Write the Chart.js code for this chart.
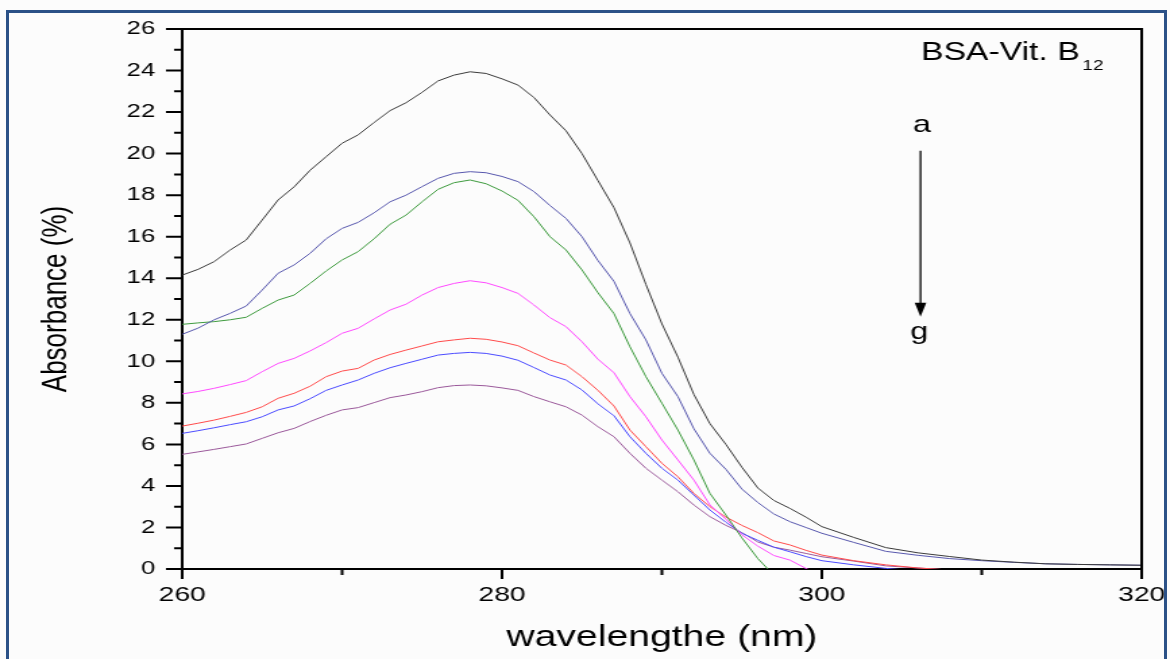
<!DOCTYPE html>
<html>
<head>
<meta charset="utf-8">
<script src="https://cdn.jsdelivr.net/npm/chart.js@4.4.1/dist/chart.umd.min.js"></script>
<style>
  html, body { margin: 0; padding: 0; background: #fcfcfc; overflow: hidden; }
  #frame { position: absolute; left: 6px; top: 10px; width: 1155px; height: 700px;
           border: 3px solid #2b5187; border-bottom: none; pointer-events: none; }
  /* the original picture is stretched sideways, so the chart is too */
  #c { position: absolute; left: 0; top: 0; transform: scaleX(1.34948); transform-origin: 0 0; }
</style>
</head>
<body>
<canvas id="c" width="867" height="659"></canvas>
<div id="frame"></div>
<script>
// wavelength (nm)
const wavelengths = [260,261,262,263,264,265,266,267,268,269,270,271,272,273,274,275,276,277,278,279,
  280,281,282,283,284,285,286,287,288,289,290,291,292,293,294,295,296,297,298,299,300,
  302,304,306,308,310,312,314,316,318,320];

// absorbance of curves a..g
const curveA = [14.15,14.43,14.8,15.36,15.84,16.8,17.77,18.4,19.2,19.85,20.5,20.9,21.5,22.07,22.45,22.95,23.5,23.78,23.94,23.86,
  23.6,23.3,22.7,21.86,21.1,20.0,18.7,17.4,15.7,13.7,11.8,10.2,8.4,7.0,6.0,4.9,3.9,3.3,2.92,2.5,2.04,
  1.52,1.03,0.78,0.6,0.43,0.33,0.25,0.22,0.2,0.18];
const curveB = [11.3,11.6,12.0,12.31,12.66,13.43,14.24,14.64,15.2,15.9,16.4,16.69,17.15,17.68,18.0,18.41,18.81,19.05,19.13,19.08,
  18.9,18.65,18.17,17.5,16.88,16.0,14.85,13.85,12.3,11.03,9.42,8.3,6.75,5.57,4.8,3.85,3.2,2.65,2.28,2.0,1.72,
  1.28,0.85,0.66,0.5,0.4,0.32,0.25,0.22,0.2,0.18];
const curveC = [11.78,11.85,11.91,12.0,12.12,12.55,12.95,13.19,13.75,14.35,14.88,15.28,15.9,16.6,17.04,17.68,18.28,18.6,18.73,18.55,
  18.2,17.75,16.96,16.0,15.36,14.4,13.3,12.3,10.7,9.26,7.98,6.69,5.25,3.64,2.6,1.5,0.5,-0.3,null,null,null,
  null,null,null,null,null,null,null,null,null,null];
const curveD = [8.43,8.55,8.7,8.88,9.07,9.5,9.9,10.14,10.5,10.9,11.35,11.59,12.04,12.47,12.75,13.19,13.55,13.75,13.88,13.78,
  13.55,13.27,12.71,12.1,11.67,10.94,10.1,9.45,8.3,7.33,6.21,5.25,4.28,3.08,2.4,1.65,1.1,0.65,0.43,0.03,-0.3,
  null,null,null,null,null,null,null,null,null,null];
const curveE = [6.88,7.02,7.17,7.35,7.54,7.81,8.22,8.46,8.8,9.26,9.53,9.66,10.06,10.33,10.54,10.74,10.94,11.03,11.11,11.06,
  10.93,10.75,10.4,10.06,9.82,9.26,8.6,7.85,6.69,5.89,5.09,4.44,3.64,3.0,2.5,2.1,1.75,1.35,1.16,0.9,0.67,
  0.4,0.2,0.05,-0.05,null,null,null,null,null,null];
const curveF = [6.53,6.66,6.8,6.95,7.09,7.33,7.66,7.85,8.2,8.6,8.86,9.1,9.42,9.69,9.9,10.1,10.3,10.38,10.43,10.38,
  10.25,10.05,9.7,9.34,9.1,8.62,7.95,7.38,6.37,5.57,4.85,4.28,3.56,2.84,2.25,1.72,1.38,1.05,0.83,0.6,0.4,
  0.2,0.03,-0.1,null,null,null,null,null,null,null];
const curveG = [5.52,5.64,5.76,5.89,6.02,6.29,6.56,6.77,7.1,7.4,7.66,7.77,8.01,8.25,8.38,8.54,8.73,8.83,8.86,8.82,
  8.72,8.6,8.3,8.05,7.81,7.41,6.85,6.37,5.57,4.85,4.28,3.72,3.08,2.52,2.1,1.75,1.3,1.05,0.91,0.75,0.59,
  0.38,0.15,0.05,-0.05,null,null,null,null,null,null];

const curveNames = ["a", "b", "c", "d", "e", "f", "g"];
const curveColors = ["#3a3a3a", "#5757ad", "#3d9a3d", "#ff48ff", "#ff4a4a", "#4a4aff", "#9a589a"];
const curves = [curveA, curveB, curveC, curveD, curveE, curveF, curveG];

const yTicks = { min: 0, max: 26, step: 2 };
const xTicks = { min: 260, max: 320, step: 20 };

const FONT = "'Liberation Sans', Arial, sans-serif";

function toPoints(values) {
  return values.map((v, i) => ({ x: wavelengths[i], y: v }));
}

// minor ticks, frame and the a -> g arrow note
const extras = {
  id: 'extras',
  afterDraw(chart) {
    const { ctx, chartArea: a, scales: { x, y } } = chart;
    ctx.save();
    ctx.strokeStyle = '#000';
    ctx.lineWidth = 2;
    ctx.beginPath();
    for (let v = yTicks.min; v <= yTicks.max; v++) {
      const py = y.getPixelForValue(v);
      ctx.moveTo(a.left - (v % 2 ? 6 : 12), py);
      ctx.lineTo(a.left, py);
    }
    for (let v = xTicks.min; v <= xTicks.max; v += 10) {
      const px = x.getPixelForValue(v);
      ctx.moveTo(px, a.bottom);
      ctx.lineTo(px, a.bottom + (v % 20 ? 6 : 10));
    }
    ctx.moveTo(a.left, a.top);
    ctx.lineTo(a.right, a.top);
    ctx.lineTo(a.right, a.bottom);
    ctx.stroke();

    ctx.fillStyle = '#000';
    ctx.textBaseline = 'alphabetic';
    // label top right
    ctx.font = '25px ' + FONT;
    ctx.textAlign = 'left';
    const tx = x.getPixelForValue(306.2), ty = y.getPixelForValue(24.5);
    const main = 'BSA-Vit. B';
    ctx.fillText(main, tx, ty);
    const w = ctx.measureText(main).width;
    ctx.font = '14px ' + FONT;
    ctx.fillText('12', tx + w + 2, ty + 10);

    // arrow a -> g
    const ax = x.getPixelForValue(306.17);
    ctx.font = '24px ' + FONT;
    ctx.textAlign = 'center';
    ctx.fillText(curveNames[0], ax + 1, y.getPixelForValue(21.05));
    ctx.fillText(curveNames[6], ax - 1, y.getPixelForValue(11.07));
    const y0 = y.getPixelForValue(20.14), y1 = y.getPixelForValue(12.15);
    ctx.lineWidth = 1.3;
    ctx.beginPath();
    ctx.moveTo(ax, y0);
    ctx.lineTo(ax, y1 - 12);
    ctx.stroke();
    ctx.beginPath();
    ctx.moveTo(ax - 4.3, y1 - 14);
    ctx.lineTo(ax + 4.3, y1 - 14);
    ctx.lineTo(ax, y1);
    ctx.closePath();
    ctx.fill();
    ctx.restore();
  }
};

new Chart(document.getElementById('c'), {
  type: 'line',
  data: {
    datasets: curves.map((c, i) => ({
      label: curveNames[i],
      data: toPoints(c),
      borderColor: curveColors[i],
      backgroundColor: curveColors[i],
      borderWidth: 1,
      pointRadius: 0,
      tension: 0,
      fill: false
    }))
  },
  options: {
    responsive: false,
    devicePixelRatio: 1,
    animation: false,
    layout: { padding: { top: 29, right: 21, bottom: 0, left: 0 } },
    plugins: { legend: { display: false }, tooltip: { enabled: false } },
    scales: {
      x: {
        type: 'linear',
        min: xTicks.min,
        max: xTicks.max,
        ticks: { stepSize: xTicks.step, color: '#000', padding: 14, font: { family: FONT, size: 21 } },
        grid: { drawOnChartArea: false, drawTicks: false },
        border: { display: true, color: '#000', width: 2 },
        title: { display: true, text: 'wavelengthe (nm)', color: '#000',
                 font: { family: FONT, size: 29 }, padding: { top: 0, bottom: 4 } },
        afterFit: s => { s.height = 90; s.paddingLeft = 0; s.paddingRight = 0; }
      },
      y: {
        min: yTicks.min,
        max: yTicks.max,
        ticks: { stepSize: yTicks.step, color: '#000', padding: 20, font: { family: FONT, size: 19 } },
        grid: { drawOnChartArea: false, drawTicks: false },
        border: { display: true, color: '#000', width: 2 },
        title: { display: true, text: 'Absorbance (%)', color: '#000',
                 font: { family: FONT, size: 26 }, padding: { top: 26, bottom: 0 } },
        afterFit: s => { s.width = 135; s.paddingTop = 0; s.paddingBottom = 0; }
      }
    }
  },
  plugins: [extras]
});
</script>
</body>
</html>
